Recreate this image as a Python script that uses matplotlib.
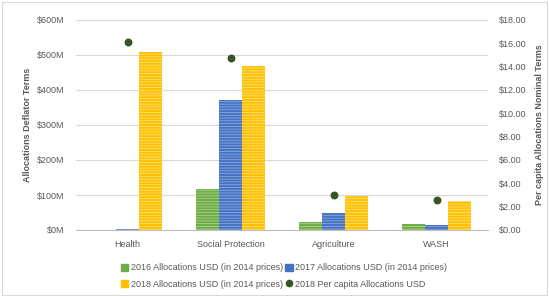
import matplotlib
matplotlib.use("Agg")
import matplotlib.pyplot as plt
import numpy as np
from matplotlib.lines import Line2D
from matplotlib.patches import Patch, Rectangle

categories = ["Health", "Social Protection", "Agriculture", "WASH"]
alloc_2016 = [0, 117, 23, 16]      # $M (2014 prices)
alloc_2017 = [3, 371, 48, 13]
alloc_2018 = [508, 469, 98, 83]
per_capita_2018 = [16.1, 14.7, 3.0, 2.57]

left_ticks = [0, 100, 200, 300, 400, 500, 600]
right_ticks = [0, 2, 4, 6, 8, 10, 12, 14, 16, 18]

plt.rcParams['font.family'] = ['Liberation Sans', 'DejaVu Sans']
plt.rcParams['hatch.linewidth'] = 0.6
txt = "#595959"

fig = plt.figure(figsize=(5.49, 2.96), dpi=100)
fig.patches.append(Rectangle((0.004, 0.004), 0.992, 0.99, transform=fig.transFigure,
                             fill=False, edgecolor="#D9D9D9", linewidth=0.8))
ax = fig.add_axes([76/549, 1-230/296, 412/549, 210/296])
ax2 = ax.twinx()

x = np.arange(len(categories))
w = 0.223
series = [(alloc_2016, "#70AD47", "#A9D08E", "2016 Allocations USD (in 2014 prices)"),
          (alloc_2017, "#4472C4", "#8EA9DB", "2017 Allocations USD (in 2014 prices)"),
          (alloc_2018, "#FFC000", "#FFE17A", "2018 Allocations USD (in 2014 prices)")]
handles = []
for i, (vals, c, hc, lab) in enumerate(series):
    ax.bar(x + (i - 1) * w, vals, width=w, color=c, edgecolor=hc, linewidth=0,
           hatch="------", zorder=2)
    handles.append(Patch(facecolor=c, edgecolor=c, label=lab))

ax2.scatter(x, per_capita_2018, s=22, color="#375623", zorder=3)
dot_h = Line2D([], [], marker="o", linestyle="none", color="#375623", markersize=4.5,
               label="2018 Per capita Allocations USD")

ax.set_xlim(-0.5, 3.5)
ax.set_ylim(0, 600)
ax.set_yticks(left_ticks)
ax.set_yticklabels([f"${v}M" for v in left_ticks])
ax2.set_ylim(0, 18)
ax2.set_yticks(right_ticks)
ax2.set_yticklabels([f"${v:.2f}" for v in right_ticks])
ax.set_xticks(x)
ax.set_xticklabels(categories)

ax.yaxis.grid(True, color="#D9D9D9", linewidth=0.8, zorder=0)
ax.set_axisbelow(True)
for a in (ax, ax2):
    for s in a.spines.values():
        s.set_visible(False)
    a.tick_params(length=0, labelsize=6.5, colors=txt)
ax.spines['bottom'].set_visible(True)
ax.spines['bottom'].set_color("#BFBFBF")
ax.tick_params(axis='x', pad=7)
ax.tick_params(axis='y', pad=8)
ax2.tick_params(axis='y', pad=8)

ax.set_ylabel("Allocations Deflator Terms", fontsize=6.5, fontweight="bold", color=txt, labelpad=4)
ax2.set_ylabel("Per capita Allocations Nominal Terms", fontsize=6.5, fontweight="bold", color=txt, labelpad=6)

leg = fig.legend(handles=[handles[0], handles[2], handles[1], dot_h], ncol=2,
                 loc="center", bbox_to_anchor=(284/549, 1-276/296), frameon=False,
                 fontsize=6.5, handlelength=0.8, handleheight=0.8, handletextpad=0.3,
                 columnspacing=0.3, labelspacing=0.8, borderpad=0)
for t in leg.get_texts():
    t.set_color(txt)

fig.savefig("out.png", dpi=100)
